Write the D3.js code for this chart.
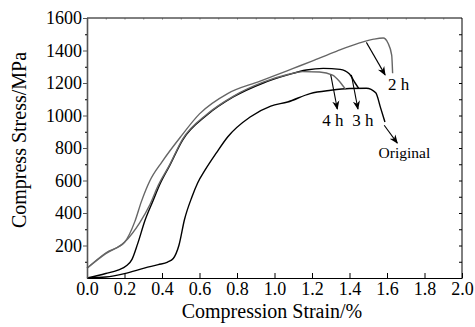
<!DOCTYPE html>
<html>
<head>
<meta charset="utf-8">
<script src="https://cdn.jsdelivr.net/npm/d3@7"></script>
<style>
  body { margin: 0; background: #fff; }
  svg { display: block; }
</style>
</head>
<body>
<svg id="chart" width="475" height="327" font-family="Liberation Serif"></svg>
<script>
// [strain %, stress MPa]
const original = [[0, 0], [0.1, 6], [0.2, 27], [0.31, 62], [0.38, 82], [0.43, 98], [0.46, 120], [0.49, 200], [0.52, 360], [0.56, 500], [0.59, 585], [0.63, 665], [0.69, 770], [0.75, 868], [0.87, 991], [0.98, 1058], [1.07, 1083], [1.19, 1135], [1.3, 1155], [1.4, 1166], [1.49, 1168], [1.54, 1140], [1.565, 1050], [1.589, 960]];
const h3 = [[0, 0], [0.1, 28], [0.165, 49], [0.21, 75], [0.24, 115], [0.27, 210], [0.31, 357], [0.35, 470], [0.39, 580], [0.44, 690], [0.51, 849], [0.64, 1003], [0.78, 1114], [0.94, 1200], [1.07, 1250], [1.17, 1280], [1.26, 1290], [1.35, 1284], [1.4, 1255], [1.43, 1200], [1.45, 1165]];
const h4 = [[0, 60], [0.1, 150], [0.2, 220], [0.28, 338], [0.336, 452], [0.38, 570], [0.44, 695], [0.51, 855], [0.64, 1008], [0.78, 1118], [0.94, 1205], [1.07, 1252], [1.15, 1270], [1.24, 1268], [1.31, 1249], [1.35, 1205], [1.38, 1160]];
const h2 = [[0, 60], [0.1, 154], [0.2, 220], [0.256, 350], [0.29, 470], [0.336, 600], [0.4, 715], [0.5, 870], [0.6, 1010], [0.75, 1135], [0.92, 1210], [1.0, 1245], [1.1, 1290], [1.2, 1335], [1.33, 1395], [1.45, 1445], [1.53, 1470], [1.58, 1477], [1.605, 1446], [1.625, 1372], [1.63, 1260]];

const seriesNames = ['Original', '3 h', '4 h', '2 h'];
const seriesData = [original, h3, h4, h2];
const seriesColors = ['#000', '#000', '#666', '#666'];

const xTicks = [0, 0.2, 0.4, 0.6, 0.8, 1.0, 1.2, 1.4, 1.6, 1.8, 2.0];
const yTicks = [200, 400, 600, 800, 1000, 1200, 1400, 1600];

// arrow annotations: label, from [strain, stress], to [strain, stress], label anchor
const notes = [
  { label: '2 h', from: [1.49, 1450], to: [1.59, 1250], text: [1.605, 1160] },
  { label: '4 h', from: [1.3, 1250], to: [1.335, 1040], text: [1.255, 935] },
  { label: '3 h', from: [1.41, 1250], to: [1.445, 1040], text: [1.415, 935] },
  { label: 'Original', from: [1.585, 940], to: [1.655, 830], text: [1.555, 740] }
];

const FONT = "'Liberation Serif', 'Times New Roman', Tinos, serif";
const width = 475, height = 327;
const margin = { top: 18, right: 13, bottom: 49, left: 87 };

const svg = d3.select('#chart');

const x = d3.scaleLinear().domain([0, 2]).range([margin.left, width - margin.right]);
const y = d3.scaleLinear().domain([0, 1600]).range([height - margin.bottom, margin.top]);

const defs = svg.append('defs');
defs.append('marker')
  .attr('id', 'arrow')
  .attr('viewBox', '0 0 10 10')
  .attr('refX', 9).attr('refY', 5)
  .attr('markerWidth', 9).attr('markerHeight', 9)
  .attr('markerUnits', 'userSpaceOnUse')
  .attr('orient', 'auto')
  .append('path')
  .attr('d', 'M0,1 L10,5 L0,9 L3,5 Z')
  .attr('fill', '#000');

// curves
const line = d3.line()
  .x(d => x(d[0]))
  .y(d => y(d[1]))
  .curve(d3.curveMonotoneX);

seriesData.forEach((data, i) => {
  svg.append('path')
    .datum(data)
    .attr('fill', 'none')
    .attr('stroke', seriesColors[i])
    .attr('stroke-width', 1.4)
    .attr('d', line);
});

// axes
const bottom = svg.append('g')
  .attr('transform', `translate(0,${y(0)})`)
  .call(d3.axisBottom(x).tickValues(xTicks).tickFormat(d3.format('.1f')).tickSizeInner(-5).tickSizeOuter(0).tickPadding(4));

const left = svg.append('g')
  .attr('transform', `translate(${x(0)},0)`)
  .call(d3.axisLeft(y).tickValues(yTicks).tickFormat(d3.format('d')).tickSizeInner(4).tickSizeOuter(0).tickPadding(1));

svg.append('g')
  .attr('transform', `translate(${x(0)},0)`)
  .call(d3.axisLeft(y).tickValues(d3.range(100, 1600, 200)).tickSize(2).tickFormat(''))
  .call(g => g.select('.domain').remove());

svg.append('g')
  .attr('transform', `translate(${x(2)},0)`)
  .call(d3.axisRight(y).tickValues(d3.range(100, 1600, 100)).tickSize(-3).tickFormat(''))
  .call(g => g.select('.domain').remove());

svg.append('g')
  .attr('transform', `translate(0,${y(1600)})`)
  .call(d3.axisTop(x).tickValues(d3.range(0.1, 2, 0.1)).tickSize(-2).tickFormat(''))
  .call(g => g.select('.domain').remove())
  .call(g => g.selectAll('line').attr('stroke', '#bbb'));

[bottom, left].forEach(g => {
  g.attr('font-family', null).attr('font-size', null);
  g.selectAll('text')
    .style('font-family', FONT)
    .style('font-size', '18px')
    .attr('fill', '#000');
});
left.select('.domain').attr('stroke', '#555').attr('stroke-width', 1.6);
left.selectAll('.tick line').attr('stroke', '#555');

// frame top/right
svg.append('line')
  .attr('x1', x(0)).attr('x2', x(2)).attr('y1', y(1600)).attr('y2', y(1600))
  .attr('stroke', '#000');
svg.append('line')
  .attr('x1', x(2)).attr('x2', x(2)).attr('y1', y(1600)).attr('y2', y(0))
  .attr('stroke', '#000');

// axis titles
svg.append('text')
  .attr('x', 272)
  .attr('y', 318)
  .attr('text-anchor', 'middle')
  .style('font-family', FONT)
  .style('font-size', '20px')
  .text('Compression Strain/%');

svg.append('text')
  .attr('transform', 'translate(26,140) rotate(-90)')
  .attr('text-anchor', 'middle')
  .style('font-family', FONT)
  .style('font-size', '20px')
  .text('Compress Stress/MPa');

// annotations
notes.forEach(n => {
  svg.append('line')
    .attr('x1', x(n.from[0])).attr('y1', y(n.from[1]))
    .attr('x2', x(n.to[0])).attr('y2', y(n.to[1]))
    .attr('stroke', '#000')
    .attr('stroke-width', 1.1)
    .attr('marker-end', 'url(#arrow)');
  svg.append('text')
    .attr('x', x(n.text[0]))
    .attr('y', y(n.text[1]))
    .style('font-family', FONT)
    .style('font-size', n.label === 'Original' ? '15.5px' : '17px')
    .text(n.label);
});
</script>
</body>
</html>
